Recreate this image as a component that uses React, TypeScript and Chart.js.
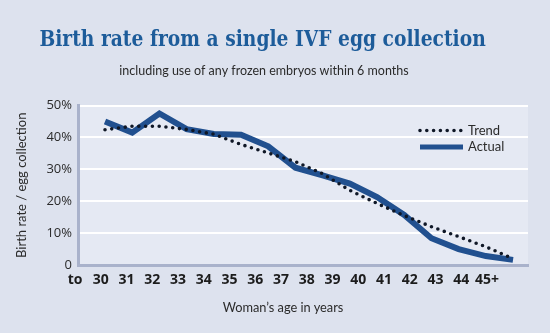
import React, { useEffect, useRef } from 'react';
import { Chart, registerables } from 'chart.js';

Chart.register(...registerables);

const titleText = 'Birth rate from a single IVF egg collection';
const subtitleText = 'including use of any frozen embryos within 6 months';
const xAxisTitle = 'Woman\u2019s age in years';
const yAxisTitle = 'Birth rate / egg collection';

const ages = [30, 31, 32, 33, 34, 35, 36, 37, 38, 39, 40, 41, 42, 43, 44, 45];
const xTickLabels = ['to', '30', '31', '32', '33', '34', '35', '36', '37', '38', '39', '40', '41', '42', '43', '44', '45+'];
const actualValues = [45, 41.5, 47.5, 42.6, 41.1, 40.8, 37.2, 30.5, 28.1, 25.5, 21.3, 15.7, 8.4, 5.0, 2.8, 1.6];
const trendValues = [42.4, 43.5, 43.5, 42.5, 41.0, 37.8, 35.1, 32.4, 28.6, 23.4, 19.3, 15.5, 12.0, 8.9, 5.7, 2.0];
const yTickValues = [0, 5, 10, 15, 20, 25, 30, 35, 40, 45, 50];

const PAGE_BG = '#dde2ee';
const PLOT_BG = '#e5e9f3';
const AXIS_COLOR = '#a9b2cb';
const TEXT_COLOR = '#2b2b2b';

const bgPlugin = {
  id: 'bgPlugin',
  beforeDraw(chart: any) {
    const { ctx, chartArea, width, height } = chart;
    ctx.save();
    ctx.fillStyle = PAGE_BG;
    ctx.fillRect(0, 0, width, height);
    ctx.fillStyle = PLOT_BG;
    ctx.fillRect(chartArea.left, chartArea.top, chartArea.right - chartArea.left, chartArea.bottom - chartArea.top);
    ctx.restore();
  },
};

const insideLegend = {
  id: 'insideLegend',
  afterDatasetsDraw(chart: any) {
    const { ctx, chartArea } = chart;
    const x0 = chartArea.right - 109;
    let y = chartArea.top + 25;
    chart.data.datasets.forEach((ds: any) => {
      ctx.save();
      ctx.strokeStyle = ds.borderColor;
      ctx.lineWidth = Math.min(ds.borderWidth, 5);
      ctx.setLineDash(ds.borderDash || []);
      ctx.lineCap = ds.borderCapStyle || 'butt';
      ctx.beginPath();
      ctx.moveTo(x0 + 1, y);
      ctx.lineTo(x0 + 44, y);
      ctx.stroke();
      ctx.setLineDash([]);
      ctx.fillStyle = TEXT_COLOR;
      ctx.font = '13px Lato';
      ctx.textBaseline = 'middle';
      ctx.textAlign = 'left';
      ctx.fillText(ds.label, x0 + 49, y);
      ctx.restore();
      y += 16.5;
    });
  },
};

export default function App() {
  const canvasRef = useRef<HTMLCanvasElement | null>(null);

  useEffect(() => {
    document.body.style.margin = '0';
    document.body.style.background = PAGE_BG;
    const canvas = canvasRef.current;
    if (!canvas) return;
    const chart = new Chart(canvas, {
      type: 'line',
      data: {
        datasets: [
          {
            label: 'Trend',
            data: ages.map((a, i) => ({ x: a, y: trendValues[i] })),
            borderColor: '#0f1726',
            borderWidth: 3.6,
            borderDash: [0, 6.8],
            borderCapStyle: 'round',
            pointRadius: 0,
            tension: 0,
            xAxisID: 'x',
            yAxisID: 'y',
          },
          {
            label: 'Actual',
            data: ages.map((a, i) => ({ x: a, y: actualValues[i] })),
            borderColor: '#21508f',
            borderWidth: 6,
            borderJoinStyle: 'miter',
            borderCapStyle: 'butt',
            pointRadius: 0,
            tension: 0,
            xAxisID: 'x',
            yAxisID: 'y',
          },
        ],
      },
      options: {
        responsive: false,
        animation: false,
        devicePixelRatio: 1,
        layout: { padding: { left: 0, right: 22, top: 0, bottom: 0 } },
        plugins: {
          legend: { display: false },
          tooltip: { enabled: false },
          title: { display: false },
          subtitle: {
            display: true,
            text: subtitleText,
            color: TEXT_COLOR,
            font: { family: 'Lato', size: 12.5 },
            padding: { top: 63, bottom: 27.5 },
          },
        },
        scales: {
          x: {
            type: 'linear',
            display: false,
            min: 29.007,
            max: 45.55,
          },
          xl: {
            type: 'linear',
            position: 'bottom',
            min: 0.1165,
            max: 17.59,
            afterBuildTicks: (axis: any) => {
              axis.ticks = xTickLabels.map((_, i) => ({ value: i }));
            },
            afterFit: (scale: any) => {
              scale.height = 68;
            },
            grid: { display: false, drawTicks: false },
            border: { display: true, color: AXIS_COLOR, width: 3 },
            ticks: {
              autoSkip: false,
              maxRotation: 0,
              minRotation: 0,
              padding: 7,
              color: '#1c1c1c',
              font: { family: 'Open Sans', size: 14, weight: 'bold' },
              callback: (v: any) => xTickLabels[v] ?? '',
            },
            title: { display: false },
          },
          y: {
            type: 'linear',
            min: 0,
            max: 50,
            afterBuildTicks: (axis: any) => {
              axis.ticks = yTickValues.map((v) => ({ value: v }));
            },
            afterFit: (scale: any) => {
              scale.width = 78;
            },
            grid: { color: '#ffffff', lineWidth: 2, drawTicks: false },
            border: { display: true, color: AXIS_COLOR, width: 3 },
            ticks: {
              padding: 6,
              color: TEXT_COLOR,
              font: { family: 'Open Sans', size: 13 },
              callback: (v: any) => (v === 0 ? '0' : v % 10 === 0 ? v + '%' : ''),
            },
            title: {
              display: true,
              text: yAxisTitle,
              color: TEXT_COLOR,
              font: { family: 'Lato', size: 13 },
              padding: { top: 14, bottom: 0 },
            },
          },
        },
      },
      plugins: [bgPlugin, insideLegend],
    } as any);
    return () => chart.destroy();
  }, []);

  return (
    <div style={{ position: 'relative', width: 550, height: 333, background: PAGE_BG, overflow: 'hidden' }}>
      <canvas ref={canvasRef} width={550} height={333} style={{ display: 'block' }} />
      <div
        style={{
          position: 'absolute',
          left: 0,
          top: 27,
          width: 525,
          textAlign: 'center',
          font: 'bold 22px "DejaVu Serif"',
          lineHeight: '22px',
          color: '#1d5c9a',
          whiteSpace: 'nowrap',
          transform: 'scaleX(0.85)',
          transformOrigin: '262.5px 0',
        }}
      >
        {titleText}
      </div>
      <div
        style={{
          position: 'absolute',
          left: 183,
          width: 200,
          top: 299,
          textAlign: 'center',
          font: '12.8px Lato',
          lineHeight: '16px',
          color: TEXT_COLOR,
          whiteSpace: 'nowrap',
        }}
      >
        {xAxisTitle}
      </div>
    </div>
  );
}
